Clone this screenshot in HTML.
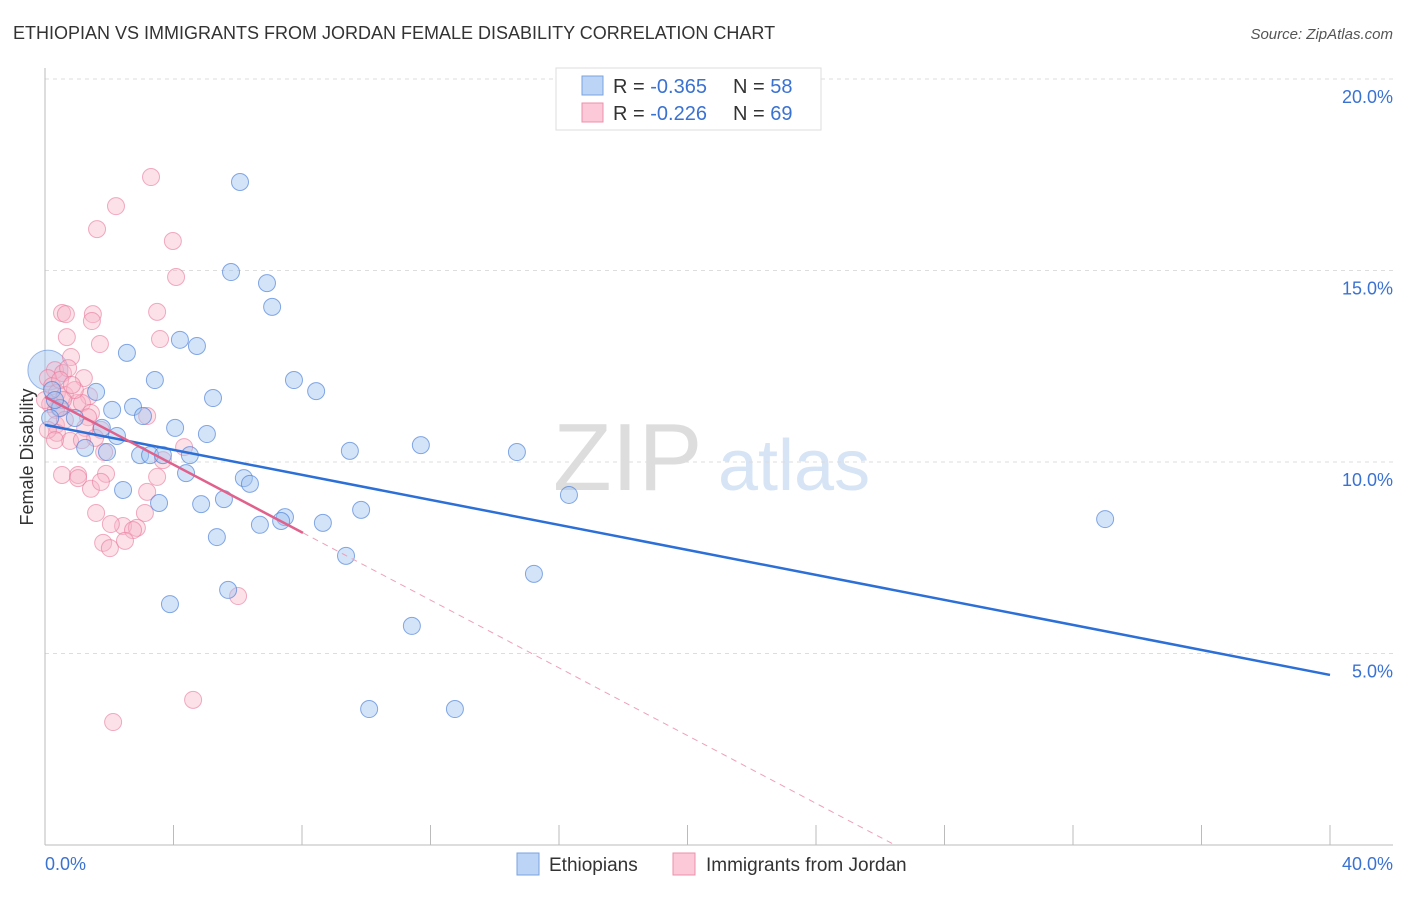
<!DOCTYPE html>
<html><head><meta charset="utf-8"><style>
body{margin:0;background:#fff;font-family:"Liberation Sans",sans-serif;}
svg text{font-family:"Liberation Sans",sans-serif;}
</style></head><body>
<svg id="chart" width="1406" height="892" viewBox="0 0 1406 892" xmlns="http://www.w3.org/2000/svg">
<text x="13" y="39" font-size="18" fill="#333">ETHIOPIAN VS IMMIGRANTS FROM JORDAN FEMALE DISABILITY CORRELATION CHART</text>
<text x="1393" y="39" font-size="15" fill="#555" font-style="italic" text-anchor="end">Source: ZipAtlas.com</text>
<g>
<text x="553" y="490" font-size="96" fill="#ddd" font-family="Liberation Serif" >ZIP</text>
<text x="718" y="490" font-size="72" fill="#d6e4f5">atlas</text>
</g>
<g id="grid"></g>
<g id="axes"></g>
<g id="pts"></g>
<g id="trends"></g>
<text transform="translate(33,457) rotate(-90)" font-size="18" fill="#333" text-anchor="middle">Female Disability</text>
<g>
<rect x="556" y="68" width="265" height="62" fill="#fff" stroke="#ddd"/>
<rect x="582" y="76" width="21" height="19" fill="#bcd4f5" stroke="#7aa3e0"/>
<rect x="582" y="103" width="21" height="19" fill="#fcc9d8" stroke="#ec8fab"/>
<text x="613" y="93" font-size="20" fill="#333">R = <tspan fill="#3a72d2">-0.365</tspan><tspan x="733">N = </tspan><tspan fill="#3a72d2">58</tspan></text>
<text x="613" y="120" font-size="20" fill="#333">R = <tspan fill="#3a72d2">-0.226</tspan><tspan x="733">N = </tspan><tspan fill="#3a72d2">69</tspan></text>
</g>
<g>
<rect x="517" y="853" width="22" height="22" fill="#bcd4f5" stroke="#7aa3e0"/>
<text x="549" y="871" font-size="19" fill="#333">Ethiopians</text>
<rect x="673" y="853" width="22" height="22" fill="#fcc9d8" stroke="#ec8fab"/>
<text x="706" y="871" font-size="19" fill="#333">Immigrants from Jordan</text>
</g>
</svg>
<script>
const blueX=[6.07,5.79,6.91,7.07,4.20,4.73,2.55,3.42,7.75,8.44,1.59,5.23,0.22,2.09,2.74,3.05,0.47,0.93,4.05,5.04,1.77,2.24,1.25,1.93,2.96,3.27,3.67,4.51,9.49,11.70,14.69,4.39,6.19,6.38,2.43,16.31,3.55,4.86,5.57,9.84,7.47,7.35,6.69,8.65,33.00,5.35,9.37,15.22,5.70,3.89,11.42,10.09,12.76,0.31,0.16];
const blueY=[17.31,14.96,14.67,14.05,13.19,13.03,12.85,12.14,12.14,11.85,11.83,11.67,11.88,11.36,11.44,11.20,11.41,11.15,10.89,10.73,10.89,10.68,10.37,10.26,10.18,10.18,10.18,10.18,10.29,10.44,10.26,9.71,9.58,9.43,9.27,9.14,8.93,8.90,9.03,8.75,8.56,8.46,8.36,8.41,8.51,8.04,7.55,7.08,6.66,6.29,5.72,3.55,3.55,11.62,11.15];
const pinkX=[3.30,2.21,1.62,3.98,4.08,0.53,0.65,1.49,1.46,3.49,3.58,0.68,1.71,0.81,0.31,0.56,0.72,1.21,0.09,0.22,0.37,1.37,0.62,1.00,0.16,1.15,0.44,0.34,1.43,3.18,1.34,0.34,1.25,1.74,0.37,1.56,0.78,1.15,1.84,4.33,3.67,0.53,1.03,1.03,1.90,1.43,1.74,3.18,3.49,1.59,3.11,2.43,2.86,2.05,2.74,1.81,2.02,2.49,6.01,4.61,2.12,0,0.47,0.93,0.62,0.09,0.31,0.84,0.56];
const pinkY=[17.44,16.68,16.08,15.77,14.83,13.89,13.86,13.86,13.68,13.92,13.21,13.26,13.08,12.74,12.40,12.32,12.45,12.19,12.19,11.98,11.80,11.72,11.75,11.54,11.51,11.54,11.41,11.36,11.28,11.20,11.17,10.97,10.89,10.84,10.76,10.63,10.55,10.57,10.26,10.39,10.05,9.66,9.66,9.58,9.69,9.30,9.48,9.22,9.61,8.67,8.67,8.33,8.28,8.38,8.22,7.89,7.75,7.94,6.50,3.79,3.21,11.62,12.14,11.88,11.10,10.84,10.57,12.01,11.62];
const bigBlue=[0.09,12.40];
const blueTrend=[[0,10.97],[40,4.44]];
const pinkTrendSolid=[[0,11.70],[8.03,8.15]];
const pinkTrendDash=[[8.03,8.15],[26.46,0]];
const yTicks=[5,10,15,20];
const yTickLabels=["5.0%","10.0%","15.0%","20.0%"];
const xTicks=[0,4,8,12,16,20,24,28,32,36,40];
const xTickLabels=["0.0%","40.0%"];

const NS="http://www.w3.org/2000/svg";
const sx=v=>45+v*(1285/40);
const sy=v=>845-v*(766/20);
function mk(tag,parent,attrs){const e=document.createElementNS(NS,tag);for(const k in attrs)e.setAttribute(k,attrs[k]);parent.appendChild(e);return e;}
const grid=document.getElementById('grid'),axes=document.getElementById('axes'),pts=document.getElementById('pts'),tr=document.getElementById('trends');
yTicks.forEach((t,i)=>{
 const l=mk('line',grid,{x1:45,x2:1393,y1:sy(t),y2:sy(t),stroke:'#ddd','stroke-dasharray':'4,4'});
 
 
 const tx=mk('text',axes,{x:1393,y:sy(t)+24,'font-size':18,fill:'#3a72d2','text-anchor':'end'});
 tx.textContent=yTickLabels[i];
 
 
});
const xa=mk('line',axes,{x1:45,x2:1393,y1:845,y2:845,stroke:'#bbb'});


const ya=mk('line',axes,{x1:45,x2:45,y1:68,y2:845,stroke:'#bbb'});


xTicks.forEach(t=>{
 const l=mk('line',axes,{x1:sx(t),x2:sx(t),y1:825,y2:845,stroke:'#bbb'});
 
 
});
const xl0=mk('text',axes,{x:45,y:870,'font-size':18,fill:'#3a72d2'});xl0.textContent=xTickLabels[0];


const xl1=mk('text',axes,{x:1393,y:870,'font-size':18,fill:'#3a72d2','text-anchor':'end'});xl1.textContent=xTickLabels[1];


const bb=mk('circle',pts,{cx:sx(bigBlue[0]),cy:sy(bigBlue[1]),r:20,fill:'rgba(160,195,240,0.45)',stroke:'rgba(90,140,220,0.6)'});


pinkX.forEach((x,i)=>{
 const c=mk('circle',pts,{cx:sx(x),cy:sy(pinkY[i]),r:8.5,fill:'rgba(248,180,200,0.4)',stroke:'rgba(232,120,155,0.6)'});
 
 
});
blueX.forEach((x,i)=>{
 const c=mk('circle',pts,{cx:sx(x),cy:sy(blueY[i]),r:8.5,fill:'rgba(160,195,240,0.45)',stroke:'rgba(70,125,215,0.65)'});
 
 
});
const bt=mk('line',tr,{x1:sx(blueTrend[0][0]),y1:sy(blueTrend[0][1]),x2:sx(blueTrend[1][0]),y2:sy(blueTrend[1][1]),stroke:'#2c6fd6','stroke-width':2.5});


const pt=mk('line',tr,{x1:sx(pinkTrendSolid[0][0]),y1:sy(pinkTrendSolid[0][1]),x2:sx(pinkTrendSolid[1][0]),y2:sy(pinkTrendSolid[1][1]),stroke:'#e0628c','stroke-width':2.5});


const pd=mk('line',tr,{x1:sx(pinkTrendDash[0][0]),y1:sy(pinkTrendDash[0][1]),x2:sx(pinkTrendDash[1][0]),y2:sy(pinkTrendDash[1][1]),stroke:'#eea0b8','stroke-width':1,'stroke-dasharray':'6,5'});


</script>
</body></html>
